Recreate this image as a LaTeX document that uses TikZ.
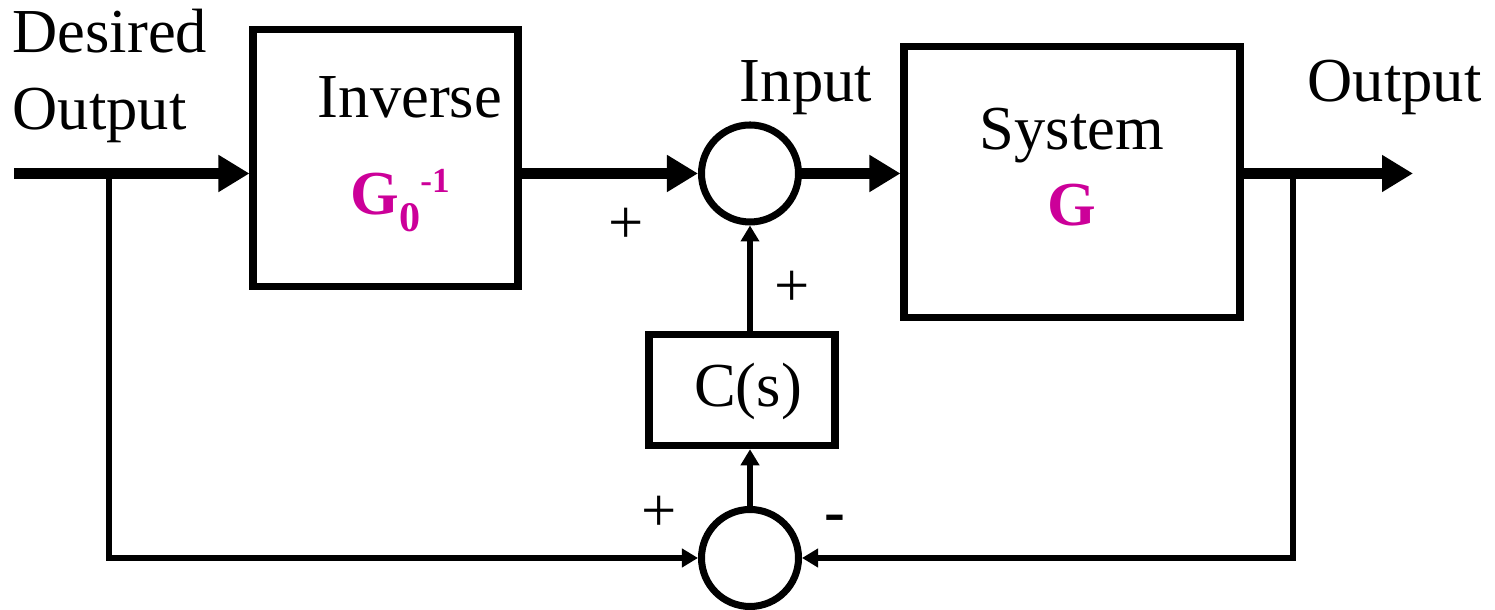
\documentclass[tikz,border=0pt]{standalone}
\usepackage{fontspec}
\setmainfont{Liberation Serif}
\usetikzlibrary{arrows.meta}
\definecolor{gainmag}{HTML}{CC0099}

\begin{document}
\begin{tikzpicture}[
    every node/.style={font=\fontsize{17.8}{21}\selectfont, inner sep=0pt},
    blk/.style={rectangle, draw, line width=2pt},
    sumpt/.style={circle, draw, line width=2pt, minimum size=0.97cm},
    gain/.style={text=gainmag, font=\fontsize{17.8}{21}\selectfont\bfseries},
    thickflow/.style={line width=3.3pt, -{Triangle[length=3.1mm,width=3.5mm]}},
    thinflow/.style={line width=1.5pt, -{Triangle[length=1.6mm,width=1.8mm]}}
]
    \useasboundingbox (0,0) rectangle (14.95,6.10);
    \node[blk, minimum width=2.65cm, minimum height=2.57cm] (inv) at (3.855,4.52) {};
    \node[sumpt] (sum1) at (7.50,4.365) {};
    \node[blk, minimum width=3.36cm, minimum height=2.715cm] (sys) at (10.72,4.28) {};
    \node[blk, minimum width=1.86cm, minimum height=1.115cm] (cs) at (7.42,2.20) {};
    \node[sumpt] (sum2) at (7.50,0.52) {};
    \node[anchor=base] (cstxt) at (7.48,2.03) {C(s)};
    \node[anchor=base west] (desired) at (0.12,5.57) {Desired};
    \node[anchor=base west] (desout) at (0.12,4.80) {Output};
    \node[anchor=base] (invtxt) at (4.10,4.92) {Inverse};
    \node[gain, anchor=base west] (invgain) at (3.50,3.95)
        {G\raisebox{-0.17cm}{\fontsize{12}{12}\selectfont 0}\raisebox{0.22cm}{\fontsize{10}{10}\selectfont -1}};
    \node[anchor=base] (input) at (8.06,5.08) {Input};
    \node[anchor=base] (systxt) at (10.72,4.60) {System};
    \node[gain, anchor=base] (sysgain) at (10.72,3.84) {G};
    \node[anchor=base] (output) at (13.945,5.08) {Output};
    \node (plusA) at (6.26,3.84) {+};
    \node (plusB) at (7.92,3.21) {+};
    \node (plusC) at (6.59,0.96) {+};
    \node (minus) at (8.35,0.86) {\textbf{-}};
    \coordinate (start) at (0.14,4.365);
    \coordinate (tapL) at (1.09,4.365);
    \coordinate (tapR) at (12.93,4.365);
    \coordinate (outend) at (14.13,4.365);
    \draw[thickflow] (start) -- (start -| inv.west);
    \draw[thickflow] (inv.east |- sum1) -- (sum1);
    \draw[thickflow] (sum1) -- (sum1 -| sys.west);
    \draw[thickflow] (sys.east |- sum1) -- (outend);
    \draw[thinflow] (tapL) |- (sum2);
    \draw[thinflow] (tapR) |- (sum2);
    \draw[thinflow] (sum2) -- (sum2 |- cs.south);
    \draw[thinflow] (sum1 |- cs.north) -- (sum1);
\end{tikzpicture}
\end{document}
